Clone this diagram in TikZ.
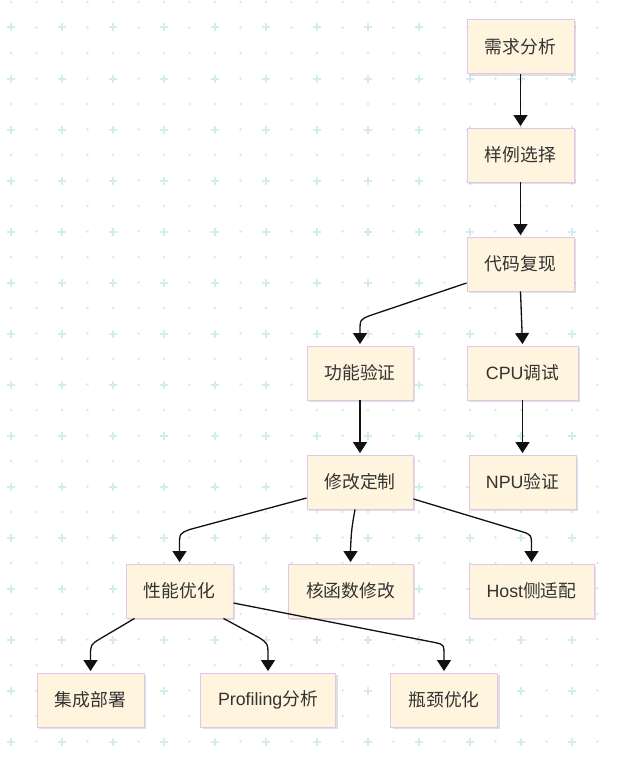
\documentclass[tikz,border=0pt]{standalone}
\usepackage{fontspec}
\setmainfont{Noto Sans CJK SC}
\newfontfamily\lat{Liberation Sans}
\usetikzlibrary{arrows.meta,shadows,calc}
\definecolor{gridc}{HTML}{D3ECEF}
\definecolor{boxfill}{HTML}{FFF4DD}
\definecolor{boxline}{HTML}{E2C7EA}
\definecolor{ink}{HTML}{333333}
\definecolor{linec}{HTML}{111111}
\tikzset{
  box/.style={draw=boxline, line width=0.9pt, fill=boxfill, minimum height=54pt, inner sep=0pt,
    text=ink, font=\fontsize{17.8}{20}\selectfont,
    drop shadow={shadow xshift=2pt, shadow yshift=-2pt, opacity=0.12, fill=black}},
  edge/.style={draw=linec, line width=1.3pt, -{Triangle[width=14pt,length=11pt]}},
}
\begin{document}
\begin{tikzpicture}[x=1pt,y=-1pt]
\useasboundingbox[fill=white] (0,0) rectangle (616,760);
\foreach \i in {0,...,23} {
  \foreach \j in {0,...,29} {
    \pgfmathtruncatemacro\p{(mod(\i,2)==0 && mod(\j,2)==1) ? 1 : 0}
    \ifnum\p=1
      \draw[gridc, line width=2pt] (11+25.5*\i-4, 2+25.5*\j) -- (11+25.5*\i+4, 2+25.5*\j)
        (11+25.5*\i, 2+25.5*\j-4) -- (11+25.5*\i, 2+25.5*\j+4);
    \else
      \fill[gridc] (11+25.5*\i, 2+25.5*\j) circle (1.4);
    \fi
  }
}
\node[box, minimum width=107pt] (xq) at (520.5,46.5) {需求分析};
\node[box, minimum width=107pt] (yl) at (520.5,155) {样例选择};
\node[box, minimum width=107pt] (dm) at (520.5,264) {代码复现};
\node[box, minimum width=106pt] (gn) at (360,373) {功能验证};
\node[box, minimum width=111pt] (cpu) at (522.5,373) {{\lat CPU}调试};
\node[box, minimum width=106pt] (xg) at (360,482) {修改定制};
\node[box, minimum width=107pt] (npu) at (522.5,482) {{\lat NPU}验证};
\node[box, minimum width=107pt] (xn) at (179.5,591) {性能优化};
\node[box, minimum width=125pt] (hx) at (350.5,591) {核函数修改};
\node[box, minimum width=125pt] (host) at (531.5,591) {{\lat Host}侧适配};
\node[box, minimum width=107pt] (jc) at (90.5,700) {集成部署};
\node[box, minimum width=135pt] (pf) at (268,700) {{\lat Profiling}分析};
\node[box, minimum width=107pt] (pj) at (444,700) {瓶颈优化};

\draw[edge] (xq) -- ([yshift=1.5pt]yl.north);
\draw[edge] (yl) -- ([yshift=1.5pt]dm.north);
\draw[edge] ($(dm.west)+(0,19)$) -- ($(gn.north)+(10,-30)$) .. controls ($(gn.north)+(0,-26)$) .. ($(gn.north)+(0,-14)$) -- ($(gn.north)+(0,-1.5)$);
\draw[edge] (dm.south) -- ([yshift=1.5pt]cpu.north);
\draw[edge] (gn) -- ([yshift=1.5pt]xg.north);
\draw[edge] (cpu) -- ([yshift=1.5pt]npu.north);
\draw[edge] ($(xg.west)+(0,16)$) -- ($(xn.north)+(10,-34)$) .. controls ($(xn.north)+(0,-30)$) .. ($(xn.north)+(0,-18)$) -- ($(xn.north)+(0,-1.5)$);
\draw[edge] ($(xg.south)+(-5,0)$) .. controls ($(hx.north)+(1,-34)$) .. ($(hx.north)+(0,-14)$) -- ($(hx.north)+(0,-1.5)$);
\draw[edge] ($(xg.east)+(0,17)$) -- ($(host.north)+(-10,-32)$) .. controls ($(host.north)+(0,-29)$) .. ($(host.north)+(0,-16)$) -- ($(host.north)+(0,-1.5)$);
\draw[edge] ($(xn.south)+(-45,0)$) -- ($(jc.north)+(10,-34)$) .. controls ($(jc.north)+(0,-28)$) .. ($(jc.north)+(0,-16)$) -- ($(jc.north)+(0,-1.5)$);
\draw[edge] ($(xn.south)+(44,0)$) -- ($(pf.north)+(-9,-35)$) .. controls ($(pf.north)+(0,-29)$) .. ($(pf.north)+(0,-16)$) -- ($(pf.north)+(0,-1.5)$);
\draw[edge] ($(xn.east)+(0,12)$) -- ($(pj.north)+(-9,-30)$) .. controls ($(pj.north)+(0,-28)$) .. ($(pj.north)+(0,-16)$) -- ($(pj.north)+(0,-1.5)$);
\end{tikzpicture}
\end{document}
